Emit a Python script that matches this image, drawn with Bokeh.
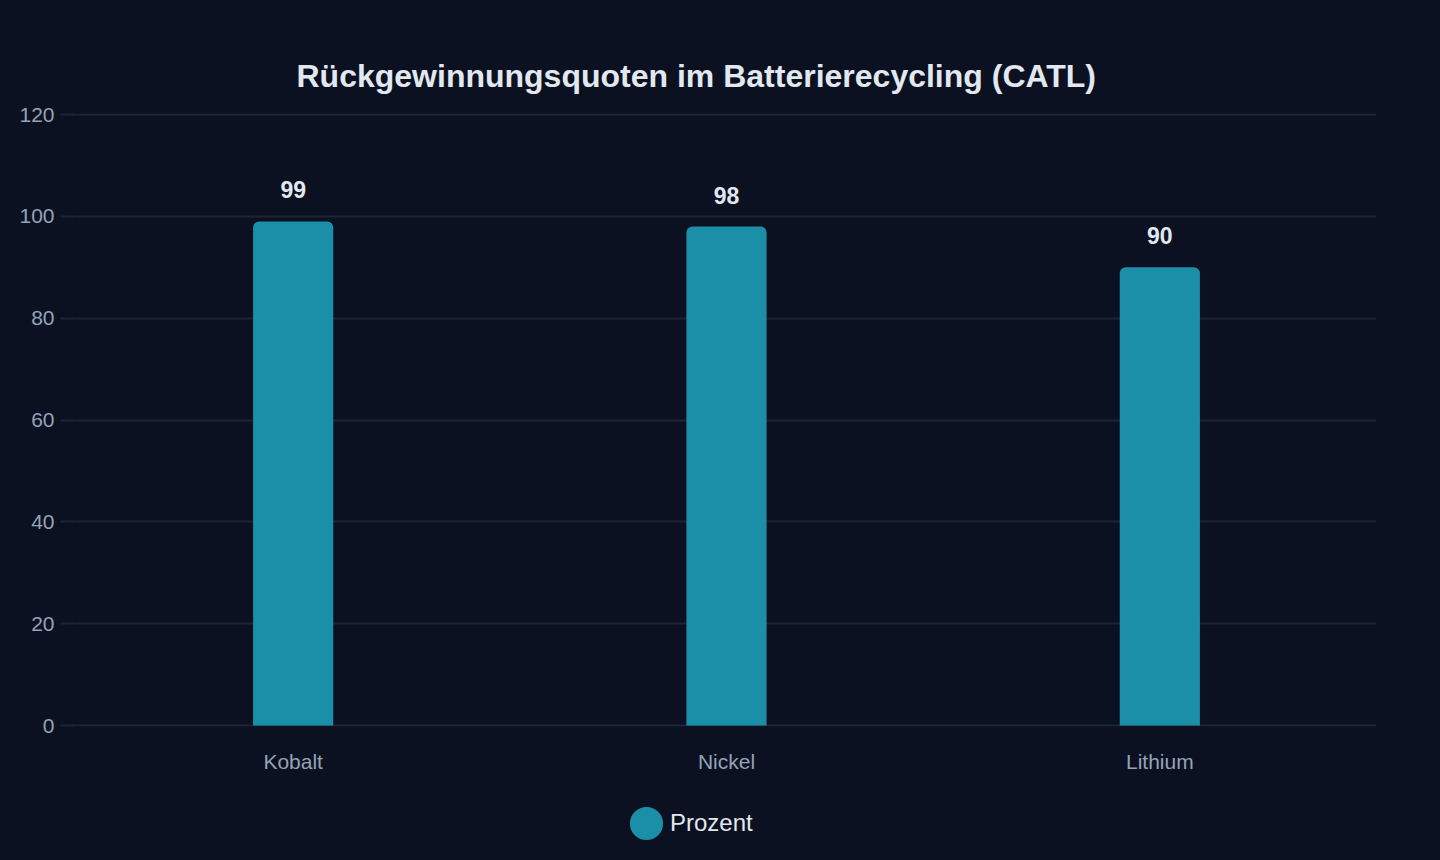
from bokeh.plotting import figure
from bokeh.layouts import column
from bokeh.models import (ColumnDataSource, Legend, LegendItem, FactorRange, Range1d)
from bokeh.core.properties import value
from bokeh.embed import file_html
from bokeh.resources import INLINE

# ---- data ----
categories = ["Kobalt", "Nickel", "Lithium"]
prozent = [99, 98, 90]
y_ticks = [0, 20, 40, 60, 80, 100, 120]
title_text = "Rückgewinnungsquoten im Batterierecycling (CATL)"
series_name = "Prozent"

BG = "#0b1120"
BAR = "#1b8fa7"
GRID = "#1d2433"
TICK_TXT = "#94a3b8"
LIGHT = "#e2e8f0"
FONT = "Liberation Sans"

src = ColumnDataSource(data=dict(cat=categories, val=prozent,
                                 lbl=[str(v) for v in prozent]))

# 1px of headroom on each side so that the 0 and 120 grid lines are drawn
pad = 120 / 611
p = figure(width=1440, height=780, x_range=FactorRange(*categories),
           y_range=Range1d(-pad, 120 + pad), output_backend="svg",
           toolbar_location=None,
           min_border_left=76, min_border_right=64, min_border_top=113,
           min_border_bottom=54)
p.background_fill_color = BG
p.border_fill_color = BG
p.outline_line_color = None
p.styles = {"background-color": BG}

p.title.text = title_text
p.title.text_font = FONT
p.title.text_font_size = "32px"
p.title.text_font_style = "bold"
p.title.text_color = LIGHT
p.title.align = "left"
p.title.offset = 220
p.title.standoff = 39

p.vbar(x="cat", top="val", bottom=0, width=0.185, source=src, color=BAR,
       line_color=None, border_radius=(6, 6, 0, 0))

p.text(x="cat", y="val", text="lbl", source=src, y_offset=-23,
       text_align="center", text_baseline="bottom", text_color=LIGHT,
       text_font=value(FONT), text_font_size="23px", text_font_style="bold")

# axes
p.yaxis.ticker = y_ticks
p.yaxis.axis_line_color = None
p.yaxis.major_tick_line_color = GRID
p.yaxis.major_tick_line_width = 2
p.yaxis.major_tick_out = 16
p.yaxis.major_tick_in = 0
p.yaxis.minor_tick_line_color = None
p.yaxis.major_label_standoff = 6
p.yaxis.major_label_text_font = FONT
p.yaxis.major_label_text_font_size = "21px"
p.yaxis.major_label_text_color = TICK_TXT

p.xaxis.axis_line_color = None
p.xaxis.major_tick_line_color = None
p.xaxis.minor_tick_line_color = None
p.xaxis.major_label_standoff = 17
p.xaxis.major_label_text_font = FONT
p.xaxis.major_label_text_font_size = "21px"
p.xaxis.major_label_text_color = TICK_TXT

p.xgrid.grid_line_color = None
p.ygrid.grid_line_color = GRID
p.ygrid.grid_line_width = 2
p.x_range.range_padding = 0

# legend strip below the chart
p2 = figure(width=1440, height=80, x_range=Range1d(0, 1), y_range=Range1d(0, 1),
            output_backend="svg", toolbar_location=None, min_border=0)
p2.background_fill_color = BG
p2.border_fill_color = BG
p2.outline_line_color = None
p2.styles = {"background-color": BG}
p2.axis.visible = False
p2.grid.visible = False
p2.title.visible = False

dummy = p2.scatter(x=[-5], y=[-5], marker="circle", size=19,
                   fill_color=BAR, line_color=BAR, line_width=14)
legend = Legend(items=[LegendItem(label=series_name, renderers=[dummy])],
                location=(546, 13), orientation="horizontal",
                glyph_width=48, glyph_height=48, label_standoff=0,
                padding=0, margin=0, spacing=0,
                background_fill_alpha=0, border_line_color=None,
                label_text_font=FONT, label_text_font_size="24px",
                label_text_color=LIGHT)
p2.add_layout(legend, "center")

layout = column(p, p2, spacing=0, styles={"background-color": BG})
open("out.html", "w").write(file_html(layout, INLINE))
